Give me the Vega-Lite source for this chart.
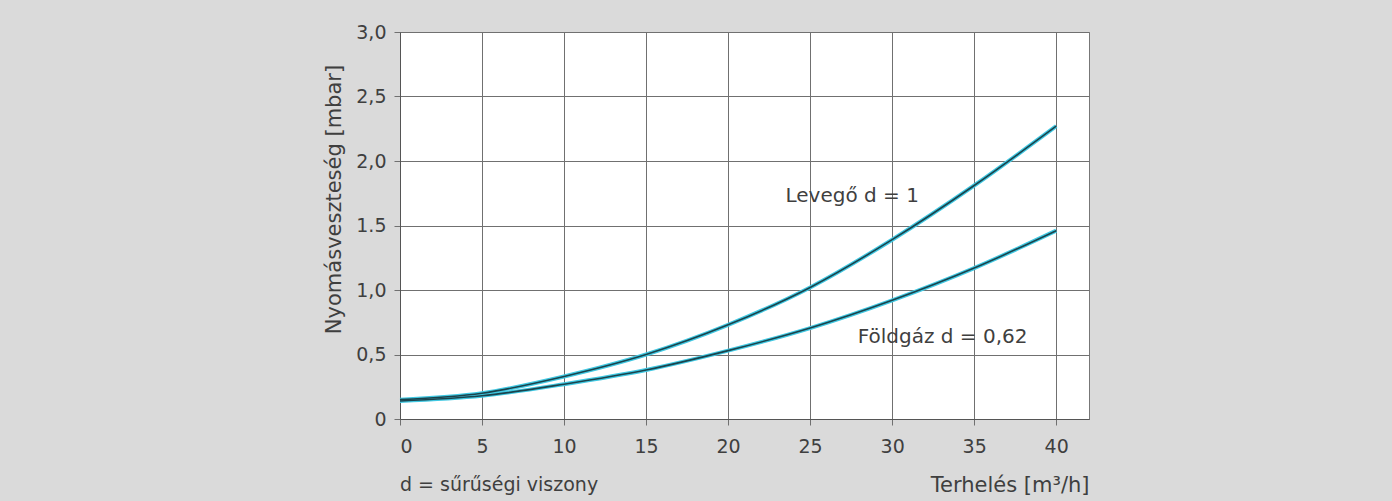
{
  "$schema": "https://vega.github.io/schema/vega-lite/v6.json",
  "width": 689,
  "height": 387,
  "autosize": {"type": "none"},
  "padding": {"left": 400, "top": 32, "right": 303, "bottom": 82},
  "background": "#dadada",
  "config": {
    "font": "DejaVu Sans",
    "view": {"fill": "white", "stroke": "#777", "strokeWidth": 1},
    "axis": {
      "labelFont": "DejaVu Sans", "labelFontSize": 19, "labelColor": "#3f3f3f",
      "titleFont": "DejaVu Sans", "titleFontSize": 21, "titleColor": "#3f3f3f", "titleFontWeight": "normal",
      "gridColor": "#707070", "gridWidth": 1, "gridOpacity": 1,
      "tickColor": "#707070", "tickSize": 6, "domainColor": "#555"
    }
  },
  "title": {
    "text": "d = sűrűségi viszony",
    "orient": "bottom",
    "anchor": "start",
    "frame": "group",
    "font": "DejaVu Sans",
    "fontSize": 19,
    "fontWeight": "normal",
    "color": "#3f3f3f",
    "offset": -19
  },
  "datasets": {
    "curves": [
      {"series": "Levegő", "x": 0, "y": 0.15},
      {"series": "Levegő", "x": 5, "y": 0.2},
      {"series": "Levegő", "x": 10, "y": 0.33},
      {"series": "Levegő", "x": 15, "y": 0.5},
      {"series": "Levegő", "x": 20, "y": 0.73},
      {"series": "Levegő", "x": 25, "y": 1.02},
      {"series": "Levegő", "x": 30, "y": 1.39},
      {"series": "Levegő", "x": 35, "y": 1.81},
      {"series": "Levegő", "x": 40, "y": 2.27},
      {"series": "Földgáz", "x": 0, "y": 0.14},
      {"series": "Földgáz", "x": 5, "y": 0.18},
      {"series": "Földgáz", "x": 10, "y": 0.27},
      {"series": "Földgáz", "x": 15, "y": 0.38},
      {"series": "Földgáz", "x": 20, "y": 0.53},
      {"series": "Földgáz", "x": 25, "y": 0.705},
      {"series": "Földgáz", "x": 30, "y": 0.92},
      {"series": "Földgáz", "x": 35, "y": 1.17},
      {"series": "Földgáz", "x": 40, "y": 1.46}
    ],
    "labels": [
      {"x": 23.5, "y": 1.73, "text": "Levegő d = 1"},
      {"x": 27.9, "y": 0.636, "text": "Földgáz d = 0,62"}
    ]
  },
  "layer": [
    {
      "data": {"name": "curves"},
      "mark": {"type": "line", "interpolate": "monotone", "stroke": "#40c8e2", "strokeWidth": 4},
      "encoding": {
        "x": {
          "field": "x", "type": "quantitative",
          "scale": {"domain": [0, 42], "nice": false},
          "axis": {
            "values": [0, 5, 10, 15, 20, 25, 30, 35, 40],
            "title": "Terhelés [m³/h]",
            "titleAnchor": "end", "titleAlign": "right",
            "titlePadding": 18, "labelPadding": 12,
            "grid": true
          }
        },
        "y": {
          "field": "y", "type": "quantitative",
          "scale": {"domain": [0, 3], "nice": false},
          "axis": {
            "values": [0, 0.5, 1, 1.5, 2, 2.5, 3],
            "labelExpr": "datum.value == 0 ? '0' : (datum.value == 1.5 ? '1.5' : replace(format(datum.value, '.1f'), '.', ','))",
            "title": "Nyomásveszteség [mbar]",
            "titleY": 167,
            "titlePadding": 11, "labelPadding": 8,
            "grid": true
          }
        },
        "detail": {"field": "series"}
      }
    },
    {
      "data": {"name": "curves"},
      "mark": {"type": "line", "interpolate": "monotone", "stroke": "#1b434c", "strokeWidth": 1.6},
      "encoding": {
        "x": {"field": "x", "type": "quantitative"},
        "y": {"field": "y", "type": "quantitative"},
        "detail": {"field": "series"}
      }
    },
    {
      "data": {"name": "labels"},
      "mark": {"type": "text", "align": "left", "baseline": "middle", "font": "DejaVu Sans", "fontSize": 20, "color": "#3f3f3f"},
      "encoding": {
        "x": {"field": "x", "type": "quantitative"},
        "y": {"field": "y", "type": "quantitative"},
        "text": {"field": "text"}
      }
    }
  ]
}
